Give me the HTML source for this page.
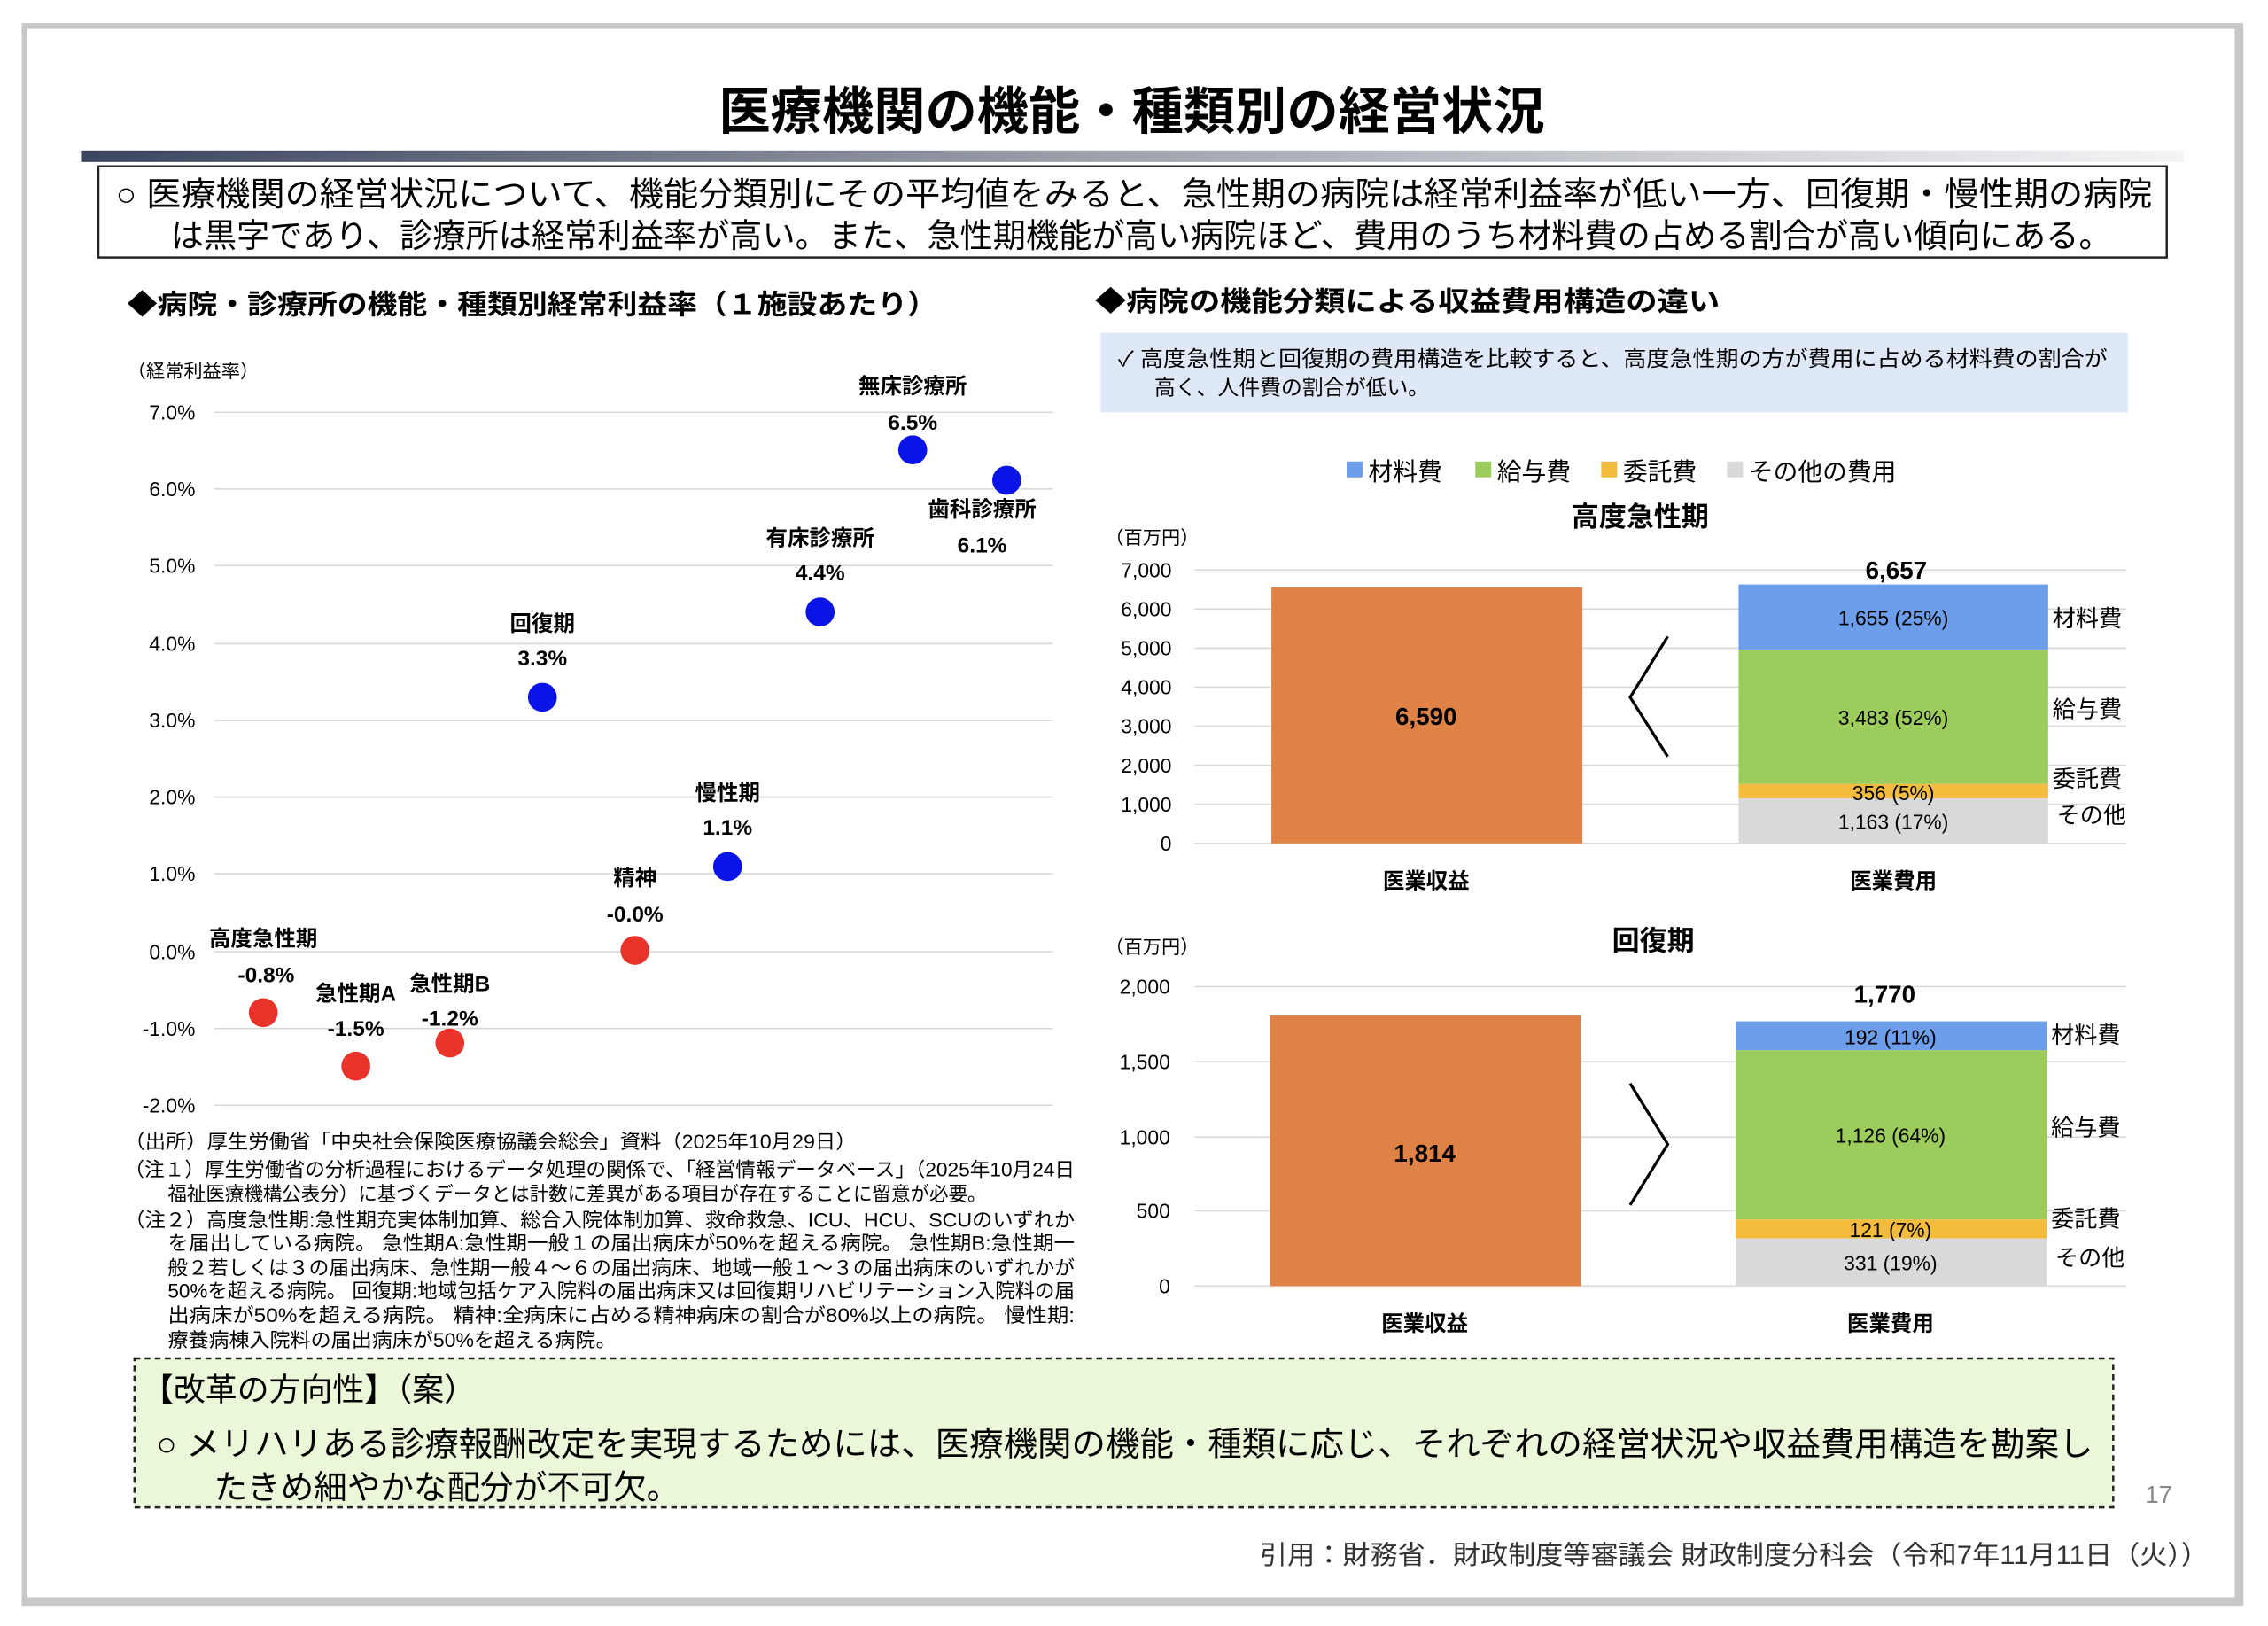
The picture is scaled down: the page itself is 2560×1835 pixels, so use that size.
<!DOCTYPE html>
<html><head><meta charset="utf-8"><style>
html,body{margin:0;padding:0;background:#fff;width:2560px;height:1835px;overflow:hidden}
svg{display:block}
text{font-family:"Liberation Sans","Noto Sans CJK JP",sans-serif}
</style></head><body>
<svg width="2560" height="1835" viewBox="0 0 1568 1124" preserveAspectRatio="none" xmlns="http://www.w3.org/2000/svg">
<defs>
<linearGradient id="bar" x1="0" x2="1"><stop offset="0" stop-color="#3b4560"/><stop offset="0.5" stop-color="#a0a4ae"/><stop offset="1" stop-color="#f4f4f6"/></linearGradient>
</defs>
<rect x="0" y="0" width="1568" height="1124" fill="#fff"/>
<rect x="15" y="16" width="1536" height="1094" fill="#c8c8c8"/>
<rect x="19" y="20" width="1526" height="1084" fill="#fff"/>
<text x="497" y="89" font-size="35" font-weight="bold" textLength="571" lengthAdjust="spacingAndGlyphs">医療機関の機能・種類別の経営状況</text>
<rect x="56" y="104" width="1454" height="8" fill="url(#bar)"/>
<rect x="68" y="115" width="1430" height="63" fill="#fff" stroke="#222" stroke-width="1.5"/>
<text x="80" y="142" font-size="23" textLength="1408" lengthAdjust="spacingAndGlyphs">○ 医療機関の経営状況について、機能分類別にその平均値をみると、急性期の病院は経常利益率が低い一方、回復期・慢性期の病院</text>
<text x="118" y="171" font-size="23" textLength="1342" lengthAdjust="spacingAndGlyphs">は黒字であり、診療所は経常利益率が高い。また、急性期機能が高い病院ほど、費用のうち材料費の占める割合が高い傾向にある。</text>
<text x="88" y="217" font-size="19" font-weight="bold" textLength="560" lengthAdjust="spacingAndGlyphs">◆病院・診療所の機能・種類別経常利益率（１施設あたり）</text>
<text x="757" y="215" font-size="19" font-weight="bold" textLength="432" lengthAdjust="spacingAndGlyphs">◆病院の機能分類による収益費用構造の違い</text>
<!-- left chart -->
<text x="88" y="261" font-size="13">（経常利益率）</text>
<g stroke="#d9d9d9" stroke-width="1">
<line x1="148" x2="728" y1="285" y2="285"/><line x1="148" x2="728" y1="338" y2="338"/><line x1="148" x2="728" y1="391" y2="391"/><line x1="148" x2="728" y1="445" y2="445"/><line x1="148" x2="728" y1="498" y2="498"/><line x1="148" x2="728" y1="551" y2="551"/><line x1="148" x2="728" y1="604" y2="604"/><line x1="148" x2="728" y1="658" y2="658"/><line x1="148" x2="728" y1="711" y2="711"/><line x1="148" x2="728" y1="764" y2="764"/>
</g>
<g font-size="14" text-anchor="end">
<text x="135" y="290">7.0%</text><text x="135" y="343">6.0%</text><text x="135" y="396">5.0%</text><text x="135" y="450">4.0%</text><text x="135" y="503">3.0%</text><text x="135" y="556">2.0%</text><text x="135" y="609">1.0%</text><text x="135" y="663">0.0%</text><text x="135" y="716">-1.0%</text><text x="135" y="769">-2.0%</text>
</g>
<g fill="#e8332a"><circle cx="182" cy="700" r="10"/><circle cx="246" cy="737" r="10"/><circle cx="311" cy="721" r="10"/><circle cx="439" cy="657" r="10"/></g>
<g fill="#0a14e6"><circle cx="375" cy="482" r="10"/><circle cx="503" cy="599" r="10"/><circle cx="567" cy="423" r="10"/><circle cx="631" cy="311" r="10"/><circle cx="696" cy="332" r="10"/></g>
<g font-size="15" font-weight="bold" text-anchor="middle">
<text x="182" y="654">高度急性期</text><text x="184" y="679">-0.8%</text>
<text x="246" y="692">急性期A</text><text x="246" y="716">-1.5%</text>
<text x="311" y="685">急性期B</text><text x="311" y="709">-1.2%</text>
<text x="439" y="612">精神</text><text x="439" y="637">-0.0%</text>
<text x="375" y="436">回復期</text><text x="375" y="460">3.3%</text>
<text x="503" y="553">慢性期</text><text x="503" y="577">1.1%</text>
<text x="567" y="377">有床診療所</text><text x="567" y="401">4.4%</text>
<text x="631" y="272">無床診療所</text><text x="631" y="297">6.5%</text>
<text x="679" y="357">歯科診療所</text><text x="679" y="382">6.1%</text>
</g>
<g font-size="13.5" lengthAdjust="spacingAndGlyphs">
<text x="86" y="794" textLength="506" lengthAdjust="spacingAndGlyphs">（出所）厚生労働省「中央社会保険医療協議会総会」資料（2025年10月29日）</text>
<text x="86" y="813" textLength="657" lengthAdjust="spacingAndGlyphs">（注１）厚生労働省の分析過程におけるデータ処理の関係で、「経営情報データベース」（2025年10月24日</text>
<text x="116" y="830" textLength="566" lengthAdjust="spacingAndGlyphs">福祉医療機構公表分）に基づくデータとは計数に差異がある項目が存在することに留意が必要。</text>
<text x="86" y="848" textLength="657" lengthAdjust="spacingAndGlyphs">（注２）高度急性期:急性期充実体制加算、総合入院体制加算、救命救急、ICU、HCU、SCUのいずれか</text>
<text x="116" y="864" textLength="627" lengthAdjust="spacingAndGlyphs">を届出している病院。 急性期A:急性期一般１の届出病床が50%を超える病院。 急性期B:急性期一</text>
<text x="116" y="881" textLength="627" lengthAdjust="spacingAndGlyphs">般２若しくは３の届出病床、急性期一般４～６の届出病床、地域一般１～３の届出病床のいずれかが</text>
<text x="116" y="897" textLength="627" lengthAdjust="spacingAndGlyphs">50%を超える病院。 回復期:地域包括ケア入院料の届出病床又は回復期リハビリテーション入院料の届</text>
<text x="116" y="914" textLength="627" lengthAdjust="spacingAndGlyphs">出病床が50%を超える病院。 精神:全病床に占める精神病床の割合が80%以上の病院。 慢性期:</text>
<text x="116" y="931" textLength="310" lengthAdjust="spacingAndGlyphs">療養病棟入院料の届出病床が50%を超える病院。</text>
</g>
<!-- right -->
<rect x="761" y="230" width="710" height="55" fill="#dfe8f7"/>
<text x="773" y="253" font-size="14.5" textLength="684" lengthAdjust="spacingAndGlyphs">✓ 高度急性期と回復期の費用構造を比較すると、高度急性期の方が費用に占める材料費の割合が</text>
<text x="798" y="273" font-size="14.5" textLength="190" lengthAdjust="spacingAndGlyphs">高く、人件費の割合が低い。</text>
<g font-size="17">
<rect x="931" y="319" width="11" height="11" fill="#6d9eeb"/><text x="946" y="332">材料費</text>
<rect x="1020" y="319" width="11" height="11" fill="#9ccc5c"/><text x="1035" y="332">給与費</text>
<rect x="1107" y="319" width="11" height="11" fill="#f4bc3c"/><text x="1122" y="332">委託費</text>
<rect x="1194" y="319" width="11" height="11" fill="#d9d9d9"/><text x="1209" y="332">その他の費用</text>
</g>
<text x="1134" y="364" font-size="19" font-weight="bold" text-anchor="middle">高度急性期</text>
<text x="764" y="376" font-size="13">（百万円）</text>
<g stroke="#d9d9d9"><line x1="826" x2="1470" y1="394" y2="394"/><line x1="826" x2="1470" y1="421" y2="421"/><line x1="826" x2="1470" y1="448" y2="448"/><line x1="826" x2="1470" y1="475" y2="475"/><line x1="826" x2="1470" y1="502" y2="502"/><line x1="826" x2="1470" y1="529" y2="529"/><line x1="826" x2="1470" y1="556" y2="556"/><line x1="826" x2="1470" y1="583" y2="583"/></g>
<g font-size="14" text-anchor="end"><text x="810" y="399">7,000</text><text x="810" y="426">6,000</text><text x="810" y="453">5,000</text><text x="810" y="480">4,000</text><text x="810" y="507">3,000</text><text x="810" y="534">2,000</text><text x="810" y="561">1,000</text><text x="810" y="588">0</text></g>
<rect x="879" y="406" width="215" height="177" fill="#de8245"/>
<rect x="1202" y="404" width="214" height="45" fill="#6d9eeb"/>
<rect x="1202" y="449" width="214" height="93" fill="#9ccc5c"/>
<rect x="1202" y="542" width="214" height="10" fill="#f4bc3c"/>
<rect x="1202" y="552" width="214" height="31" fill="#d9d9d9"/>
<polyline points="1153,440 1127,482 1153,523" fill="none" stroke="#000" stroke-width="2"/>
<text x="986" y="501" font-size="17" font-weight="bold" text-anchor="middle">6,590</text>
<text x="1311" y="400" font-size="17" font-weight="bold" text-anchor="middle">6,657</text>
<g font-size="14" text-anchor="middle"><text x="1309" y="432">1,655 (25%)</text><text x="1309" y="501">3,483 (52%)</text><text x="1309" y="553">356 (5%)</text><text x="1309" y="573">1,163 (17%)</text></g>
<g font-size="16"><text x="1419" y="433">材料費</text><text x="1419" y="496">給与費</text><text x="1419" y="544">委託費</text><text x="1422" y="569">その他</text></g>
<g font-size="15" font-weight="bold" text-anchor="middle"><text x="986" y="614">医業収益</text><text x="1309" y="614">医業費用</text></g>
<text x="1143" y="657" font-size="19" font-weight="bold" text-anchor="middle">回復期</text>
<text x="764" y="659" font-size="13">（百万円）</text>
<g stroke="#d9d9d9"><line x1="826" x2="1470" y1="682" y2="682"/><line x1="826" x2="1470" y1="734" y2="734"/><line x1="826" x2="1470" y1="786" y2="786"/><line x1="826" x2="1470" y1="837" y2="837"/><line x1="826" x2="1470" y1="889" y2="889"/></g>
<g font-size="14" text-anchor="end"><text x="809" y="687">2,000</text><text x="809" y="739">1,500</text><text x="809" y="791">1,000</text><text x="809" y="842">500</text><text x="809" y="894">0</text></g>
<rect x="878" y="702" width="215" height="187" fill="#de8245"/>
<rect x="1200" y="706" width="215" height="20" fill="#6d9eeb"/>
<rect x="1200" y="726" width="215" height="117" fill="#9ccc5c"/>
<rect x="1200" y="843" width="215" height="13" fill="#f4bc3c"/>
<rect x="1200" y="856" width="215" height="33" fill="#d9d9d9"/>
<polyline points="1127,749 1153,791 1127,833" fill="none" stroke="#000" stroke-width="2"/>
<text x="985" y="803" font-size="17" font-weight="bold" text-anchor="middle">1,814</text>
<text x="1303" y="693" font-size="17" font-weight="bold" text-anchor="middle">1,770</text>
<g font-size="14" text-anchor="middle"><text x="1307" y="722">192 (11%)</text><text x="1307" y="790">1,126 (64%)</text><text x="1307" y="855">121 (7%)</text><text x="1307" y="878">331 (19%)</text></g>
<g font-size="16"><text x="1418" y="721">材料費</text><text x="1418" y="785">給与費</text><text x="1418" y="848">委託費</text><text x="1421" y="875">その他</text></g>
<g font-size="15" font-weight="bold" text-anchor="middle"><text x="985" y="920">医業収益</text><text x="1307" y="920">医業費用</text></g>
<!-- bottom box -->
<rect x="93" y="939" width="1368" height="103" fill="#ebf7d9" stroke="#222" stroke-width="1.5" stroke-dasharray="4,3"/>
<text x="98" y="968" font-size="22">【改革の方向性】（案）</text>
<text x="108" y="1006" font-size="23" textLength="1339" lengthAdjust="spacingAndGlyphs">○ メリハリある診療報酬改定を実現するためには、医療機関の機能・種類に応じ、それぞれの経営状況や収益費用構造を勘案し</text>
<text x="148" y="1036" font-size="23" textLength="322" lengthAdjust="spacingAndGlyphs">たきめ細やかな配分が不可欠。</text>
<text x="1483" y="1039" font-size="17" fill="#888">17</text>
<text x="871" y="1081" font-size="18" fill="#333" textLength="656" lengthAdjust="spacingAndGlyphs">引用：財務省．財政制度等審議会 財政制度分科会（令和7年11月11日（火））</text>
</svg>
</body></html>
